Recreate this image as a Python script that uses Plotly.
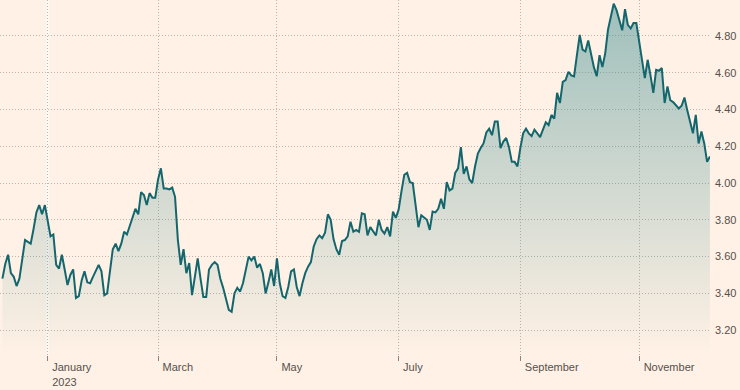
import pandas as pd
import plotly.graph_objects as go

# US market holidays (trading-day calendar used on the x axis)
holidays = ["2022-12-26", "2023-01-02", "2023-01-16", "2023-02-20", "2023-04-07",
            "2023-05-29", "2023-06-19", "2023-07-04", "2023-09-04", "2023-11-23"]

# Values, by month
dec22 = [3.48, 3.56, 3.61, 3.51, 3.49, 3.44, 3.48, 3.59, 3.69, 3.68, 3.67, 3.75, 3.84, 3.88, 3.83, 3.88]
jan = [3.80, 3.71, 3.72, 3.555, 3.535, 3.61, 3.53, 3.445, 3.50, 3.53, 3.375, 3.385, 3.47, 3.52, 3.46,
       3.455, 3.49, 3.525, 3.555, 3.52]
feb = [3.39, 3.40, 3.52, 3.64, 3.67, 3.63, 3.67, 3.735, 3.72, 3.77, 3.82, 3.86, 3.83, 3.95, 3.935,
       3.88, 3.945, 3.92, 3.92]
mar = [4.02, 4.08, 3.97, 3.97, 3.965, 3.975, 3.925, 3.69, 3.555, 3.64, 3.51, 3.565, 3.39, 3.49, 3.59,
       3.48, 3.38, 3.38, 3.53, 3.555, 3.57, 3.555, 3.48]
apr = [3.43, 3.375, 3.31, 3.30, 3.40, 3.43, 3.41, 3.455, 3.53, 3.60, 3.58, 3.60, 3.54, 3.56, 3.51,
       3.40, 3.46, 3.53, 3.44]
may = [3.59, 3.455, 3.385, 3.375, 3.435, 3.52, 3.53, 3.435, 3.385, 3.455, 3.51, 3.545, 3.57, 3.655,
       3.695, 3.715, 3.70, 3.73, 3.83, 3.80, 3.695, 3.64]
jun = [3.61, 3.685, 3.69, 3.71, 3.79, 3.735, 3.745, 3.735, 3.835, 3.83, 3.715, 3.76, 3.74, 3.715,
       3.80, 3.745, 3.725, 3.76, 3.71, 3.845, 3.81]
jul = [3.855, 3.955, 4.045, 4.055, 4.005, 4.00, 3.89, 3.76, 3.825, 3.81, 3.80, 3.745, 3.845, 3.84,
       3.86, 3.915, 3.86, 4.005, 3.96, 3.97]
aug = [4.055, 4.08, 4.195, 4.05, 4.09, 4.02, 4.00, 4.09, 4.16, 4.19, 4.215, 4.275, 4.295, 4.26,
       4.335, 4.335, 4.19, 4.225, 4.245, 4.195, 4.115, 4.115, 4.09]
sep = [4.19, 4.27, 4.295, 4.27, 4.255, 4.29, 4.27, 4.25, 4.29, 4.33, 4.315, 4.37, 4.35, 4.49, 4.435,
       4.55, 4.56, 4.605, 4.585, 4.58]
octo = [4.695, 4.805, 4.725, 4.715, 4.775, 4.70, 4.63, 4.58, 4.695, 4.63, 4.705, 4.835, 4.905, 4.975,
        4.94, 4.885, 4.83, 4.945, 4.86, 4.84, 4.87, 4.87]
nov = [4.78, 4.67, 4.57, 4.67, 4.585, 4.49, 4.615, 4.61, 4.625, 4.435, 4.525, 4.45, 4.44, 4.42,
       4.405, 4.42, 4.465, 4.395, 4.34, 4.27, 4.37]
dec23 = [4.215, 4.28, 4.215, 4.115, 4.145]

yields = dec22 + jan + feb + mar + apr + may + jun + jul + aug + sep + octo + nov + dec23

dates = pd.bdate_range("2022-12-08", "2023-12-07", freq="C", holidays=holidays).strftime("%Y-%m-%d").tolist()
assert len(dates) == len(yields), (len(dates), len(yields))

tick_dates = ["2023-01-03", "2023-03-01", "2023-05-01", "2023-07-03", "2023-09-01", "2023-11-01"]
tick_text = ["January<br>2023", "March", "May", "July", "September", "November"]
y_ticks = [3.2, 3.4, 3.6, 3.8, 4.0, 4.2, 4.4, 4.6, 4.8]

BG = "#FFF1E5"
GRID = "#bdb4ab"
LINE = "#14666d"

fig = go.Figure()
fig.add_trace(go.Scatter(
    x=dates, y=yields, mode="lines",
    line=dict(color=LINE, width=2),
    fill="tozeroy",
    fillgradient=dict(type="vertical",
                      colorscale=[[0, "rgba(60,140,144,0)"], [1, "rgba(60,140,144,0.5)"]],
                      start=3.065, stop=4.995),
    hoverinfo="skip",
))

fig.add_shape(type="line", xref="x", yref="paper", x0="2023-01-03", x1="2023-01-03",
              y0=0, y1=1, line=dict(color="rgba(255,255,255,0.9)", width=2), layer="below")

fig.update_layout(
    width=740, height=390,
    margin=dict(l=0, r=30, t=0, b=35),
    paper_bgcolor=BG, plot_bgcolor=BG,
    showlegend=False,
    font=dict(family="Liberation Sans, Arial, sans-serif", size=11, color="#55504c"),
)
fig.update_xaxes(
    type="category", range=[-0.855, 250.03],
    tickvals=tick_dates, ticktext=tick_text,
    showgrid=True, gridcolor=GRID, griddash="1px,2px", gridwidth=1,
    ticks="outside", ticklen=5, tickcolor="#8a8480", tickwidth=1,
    ticklabelposition="outside right", ticklabelshift=4, ticklabelstandoff=2,
    showline=False, zeroline=False,
)
fig.update_yaxes(
    side="right", range=[3.065, 4.995],
    tickvals=y_ticks, tickformat=".2f",
    showgrid=True, gridcolor=GRID, griddash="1px,2px", gridwidth=1,
    ticks="", ticklabelstandoff=4, zeroline=False, showline=False,
)

fig.write_html("out.html", config={"displayModeBar": False},
               post_script="document.body.style.margin='0px';document.body.style.overflow='hidden';")
